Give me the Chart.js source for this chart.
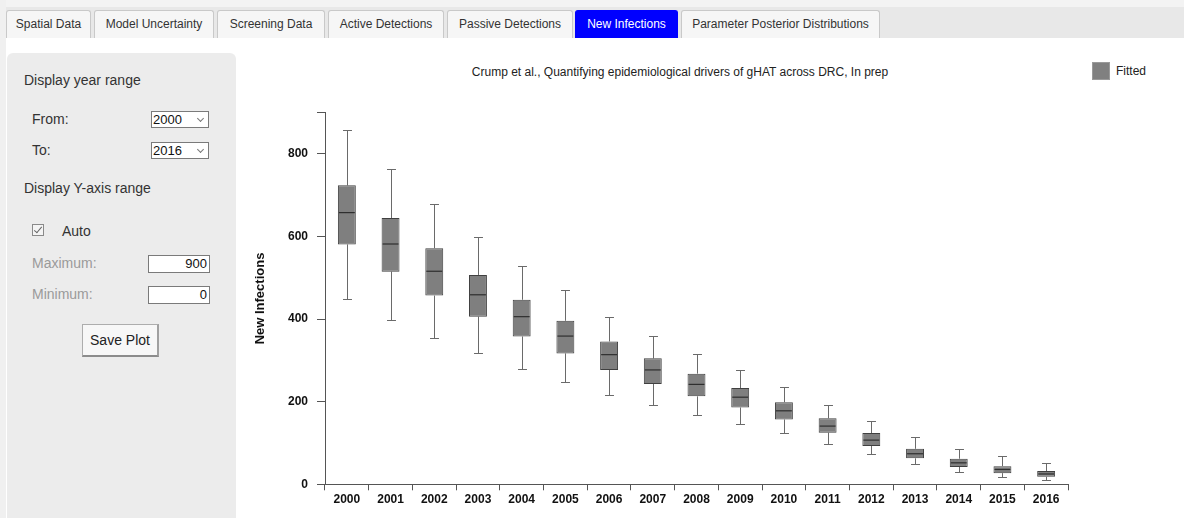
<!DOCTYPE html>
<html>
<head>
<meta charset="utf-8">
<title>New Infections</title>
<script src="https://cdn.jsdelivr.net/npm/chart.js@4.4.1/dist/chart.umd.min.js"></script>
<style>
  html, body { margin: 0; padding: 0; }
  body {
    width: 1184px; height: 518px; overflow: hidden; position: relative;
    background: #ffffff;
    font-family: Arial, "Liberation Sans", sans-serif;
    color: #333;
  }
  .abs { position: absolute; }
  #topStrip { left: 0; top: 0; width: 1184px; height: 7px; background: #f3f3f3; }
  #tabRow { left: 0; top: 7px; width: 1184px; height: 31px; background: #e8e8e8; }
  #leftStrip { left: 0; top: 0; width: 6px; height: 518px; background: #f0f0f0; }
  .tab {
    position: absolute; top: 10px; height: 28px; box-sizing: border-box;
    border: 1px solid #c9c9c9; border-bottom: none; border-radius: 3px 3px 0 0;
    background: #f6f6f6; font-size: 12px; line-height: 26px; text-align: center;
    color: #333; white-space: nowrap;
  }
  .tab.active { background: #0000ff; border-color: #0000ff; color: #ffffff; }
  #sidebar { left: 7px; top: 53px; width: 229px; height: 480px; background: #ececec; border-radius: 6px 6px 0 0; }
  .lbl { position: absolute; font-size: 14px; line-height: 16px; color: #333; white-space: nowrap; }
  .lbl.dim { color: #9a9a9a; }
  .sel {
    position: absolute; width: 58px; height: 17px; box-sizing: border-box;
    border: 1px solid #7a7a7a; background: #fff; font-size: 13px; line-height: 15px;
    padding-left: 1px; color: #111;
  }
  .sel::after {
    content: ""; position: absolute; right: 5px; top: 4px; width: 4px; height: 4px;
    border-right: 1px solid #777; border-bottom: 1px solid #777; transform: rotate(45deg);
  }
  .inp {
    position: absolute; width: 62px; height: 18px; box-sizing: border-box;
    border: 1px solid #7a7a7a; background: #fff; font-size: 13px; line-height: 16px;
    text-align: right; padding-right: 2px; color: #111;
  }
  #chk {
    left: 32px; top: 224px; width: 12px; height: 12px; box-sizing: border-box;
    border: 1px solid #8a8a8a; background: #f4f4f4;
  }
  #chk::after {
    content: ""; position: absolute; left: 3px; top: 0px; width: 3px; height: 7px;
    border-right: 1px solid #666; border-bottom: 1px solid #666; transform: rotate(40deg);
  }
  #saveBtn {
    left: 82px; top: 324px; width: 77px; height: 33px; box-sizing: border-box;
    border: 1px solid #adadad; border-bottom: 2px solid #8c8c8c; border-right: 2px solid #a0a0a0;
    background: #f7f7f7; font-size: 14px; line-height: 30px; text-align: center; color: #222;
  }
  #plotTitle { left: 430px; top: 64px; width: 500px; text-align: center; font-size: 12px; line-height: 16px; color: #222; }
  #legendSwatch { left: 1092px; top: 62px; width: 18px; height: 18px; box-sizing: border-box; background: #808080; border: 1px solid #9a9a9a; }
  #legendText { left: 1116px; top: 63px; font-size: 12px; line-height: 16px; color: #222; }
  #chartBox { left: 240px; top: 40px; width: 944px; height: 478px; }
</style>
</head>
<body>
<div id="topStrip" class="abs"></div>
<div id="tabRow" class="abs"></div>
<div id="leftStrip" class="abs"></div>

<div class="tab" style="left:6px;width:85px;">Spatial Data</div>
<div class="tab" style="left:94px;width:120px;">Model Uncertainty</div>
<div class="tab" style="left:217px;width:108px;">Screening Data</div>
<div class="tab" style="left:328px;width:116px;">Active Detections</div>
<div class="tab" style="left:447px;width:126px;">Passive Detections</div>
<div class="tab active" style="left:575px;width:103px;">New Infections</div>
<div class="tab" style="left:681px;width:199px;">Parameter Posterior Distributions</div>

<div id="sidebar" class="abs"></div>
<div class="lbl" style="left:24px;top:72px;">Display year range</div>
<div class="lbl" style="left:32px;top:111px;">From:</div>
<div class="sel" style="left:151px;top:111px;">2000</div>
<div class="lbl" style="left:32px;top:142px;">To:</div>
<div class="sel" style="left:151px;top:142px;">2016</div>
<div class="lbl" style="left:24px;top:180px;">Display Y-axis range</div>
<div id="chk" class="abs"></div>
<div class="lbl" style="left:62px;top:223px;">Auto</div>
<div class="lbl dim" style="left:32px;top:255px;">Maximum:</div>
<div class="inp" style="left:148px;top:255px;">900</div>
<div class="lbl dim" style="left:32px;top:286px;">Minimum:</div>
<div class="inp" style="left:148px;top:286px;">0</div>
<div id="saveBtn" class="abs">Save Plot</div>

<div id="plotTitle" class="abs">Crump et al., Quantifying epidemiological drivers of gHAT across DRC, In prep</div>
<div id="legendSwatch" class="abs"></div>
<div id="legendText" class="abs">Fitted</div>

<div id="chartBox" class="abs"><canvas id="chart" width="944" height="478"></canvas></div>

<script>
// Fitted annual new infections: box-and-whisker summaries per year
const years = ['2000', '2001', '2002', '2003', '2004', '2005', '2006', '2007', '2008',
               '2009', '2010', '2011', '2012', '2013', '2014', '2015', '2016'];
const whiskerLow  = [449, 398, 355, 317, 280, 247, 217, 191, 167, 146, 124,  98,  73,  48, 29, 17, 10];
const quartile1   = [581, 515, 457, 406, 358, 317, 277, 243, 213, 186, 157, 125,  93,  63, 42, 27, 18];
const medians     = [658, 582, 516, 459, 406, 359, 314, 277, 242, 211, 178, 141, 107,  74, 52, 36, 25];
const quartile3   = [724, 645, 572, 507, 447, 396, 346, 305, 268, 233, 199, 160, 124,  86, 62, 44, 32];
const whiskerHigh = [857, 763, 678, 600, 529, 471, 406, 358, 316, 276, 235, 192, 154, 115, 86, 68, 52];

const yTickValues = [0, 200, 400, 600, 800];
const yAxisMax = 900;

const FONT = 'Arial, "Liberation Sans", sans-serif';
const AXIS_COLOR = '#555555';
const BOX_FILL = '#7f7f7f';
const BOX_EDGE = '#404040';
const WHISKER_COLOR = '#6a6a6a';
const MEDIAN_COLOR = '#2e2e2e';

// Whiskers (behind the boxes) and median lines (on top), placed with the chart's scales
const boxWhiskers = {
  id: 'boxWhiskers',
  beforeDatasetsDraw(chart) {
    const { ctx, scales: { x, y } } = chart;
    const bars = chart.getDatasetMeta(0).data;
    ctx.save();
    ctx.strokeStyle = WHISKER_COLOR;
    ctx.lineWidth = 1;
    bars.forEach((bar, i) => {
      const cx = Math.round(x.getPixelForValue(i)) + 0.5;
      const half = bar.width * 0.25;
      const yHi = Math.round(y.getPixelForValue(whiskerHigh[i])) + 0.5;
      const yLo = Math.round(y.getPixelForValue(whiskerLow[i])) + 0.5;
      const yQ3 = y.getPixelForValue(quartile3[i]);
      const yQ1 = y.getPixelForValue(quartile1[i]);
      ctx.beginPath();
      ctx.moveTo(cx, yQ3); ctx.lineTo(cx, yHi);
      ctx.moveTo(cx - half, yHi); ctx.lineTo(cx + half, yHi);
      ctx.moveTo(cx, yQ1); ctx.lineTo(cx, yLo);
      ctx.moveTo(cx - half, yLo); ctx.lineTo(cx + half, yLo);
      ctx.stroke();
    });
    ctx.restore();
  },
  afterDatasetsDraw(chart) {
    const { ctx, scales: { y } } = chart;
    const bars = chart.getDatasetMeta(0).data;
    ctx.save();
    ctx.strokeStyle = MEDIAN_COLOR;
    ctx.lineWidth = 1.2;
    bars.forEach((bar, i) => {
      const ym = y.getPixelForValue(medians[i]);
      ctx.beginPath();
      ctx.moveTo(bar.x - bar.width / 2 + 1, ym);
      ctx.lineTo(bar.x + bar.width / 2 - 1, ym);
      ctx.stroke();
    });
    ctx.restore();
  }
};

new Chart(document.getElementById('chart'), {
  type: 'bar',
  data: {
    labels: years,
    datasets: [{
      label: 'Fitted',
      data: years.map((_, i) => [quartile1[i], quartile3[i]]),
      backgroundColor: BOX_FILL,
      borderColor: BOX_EDGE,
      borderWidth: 1,
      borderSkipped: false,
      barPercentage: 0.41,
      categoryPercentage: 1.0
    }]
  },
  options: {
    responsive: false,
    animation: false,
    devicePixelRatio: 1,
    layout: { padding: { top: 72.7, right: 116, bottom: 0, left: 0 } },
    plugins: {
      legend: { display: false },
      tooltip: { enabled: false },
      title: { display: false }
    },
    scales: {
      x: {
        type: 'category',
        offset: true,
        afterFit(scale) { scale.height = 33.7; },
        grid: {
          offset: true, drawOnChartArea: false, drawTicks: true,
          tickLength: 6, color: AXIS_COLOR, lineWidth: 1
        },
        border: { display: true, color: AXIS_COLOR, width: 1 },
        ticks: {
          autoSkip: false, maxRotation: 0, minRotation: 0, padding: 2,
          color: '#111', font: { family: FONT, size: 12, weight: 'bold' }
        }
      },
      y: {
        min: 0,
        max: yAxisMax,
        afterFit(scale) { scale.width = 85; },
        afterBuildTicks(scale) {
          scale.ticks = yTickValues.concat([yAxisMax]).map(v => ({ value: v }));
        },
        grid: {
          drawOnChartArea: false, drawTicks: true, tickLength: 8,
          color: AXIS_COLOR, lineWidth: 1
        },
        border: { display: true, color: AXIS_COLOR, width: 1 },
        ticks: {
          padding: 9, color: '#111',
          font: { family: FONT, size: 12, weight: 'bold' },
          callback: (v) => (yTickValues.includes(v) ? String(v) : '')
        },
        title: {
          display: true, text: 'New Infections', color: '#111',
          padding: { top: 13, bottom: 0 },
          font: { family: FONT, size: 13, weight: 'bold' }
        }
      }
    }
  },
  plugins: [boxWhiskers]
});
</script>
</body>
</html>
